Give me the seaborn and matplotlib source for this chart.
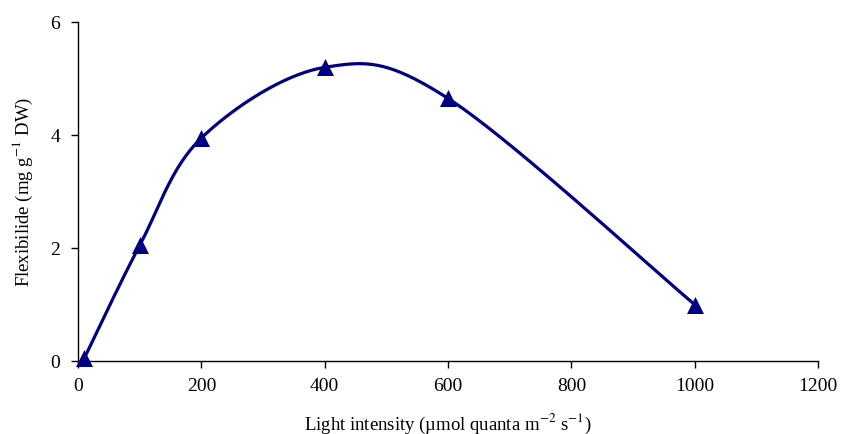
import numpy as np
import pandas as pd
import matplotlib
matplotlib.use("Agg")
import matplotlib.pyplot as plt
import seaborn as sns

# dados
light = [10, 100, 200, 400, 600, 1000]
flexibilide = [0.05, 2.05, 3.95, 5.2, 4.65, 1.0]

NAVY = "#000080"


def smooth_curve(xs, ys, n=40):
    """Suavização estilo Excel (Bezier com pontos de controle Catmull-Rom)."""
    pts = np.column_stack([xs, ys]).astype(float)
    out = []
    t = np.linspace(0, 1, n)
    for i in range(len(pts) - 1):
        p0 = pts[i - 1] if i > 0 else pts[i]
        p1 = pts[i]
        p2 = pts[i + 1]
        p3 = pts[i + 2] if i + 2 < len(pts) else pts[i + 1]
        c1 = p1 + (p2 - p0) / 6
        c2 = p2 - (p3 - p1) / 6
        seg = ((1 - t)[:, None] ** 3 * p1 + 3 * ((1 - t) ** 2 * t)[:, None] * c1
               + 3 * ((1 - t) * t ** 2)[:, None] * c2 + (t ** 3)[:, None] * p2)
        out.append(seg if i == 0 else seg[1:])
    seg = np.vstack(out)
    return pd.DataFrame({"x": seg[:, 0], "y": seg[:, 1]})


sns.set_theme(style="ticks")
plt.rcParams["font.family"] = ["Liberation Serif", "DejaVu Serif"]
plt.rcParams["mathtext.fontset"] = "stix"
plt.rcParams["text.color"] = "black"
plt.rcParams["axes.labelcolor"] = "black"
plt.rcParams["xtick.color"] = "black"
plt.rcParams["ytick.color"] = "black"

fig = plt.figure(figsize=(8.49, 4.34), dpi=100)
ax = fig.add_axes([0.092, 0.168, 0.8715, 0.781])

curve = smooth_curve(light, flexibilide)
sns.lineplot(data=curve, x="x", y="y", ax=ax, color=NAVY, linewidth=2.3,
             sort=False, estimator=None)
pts = pd.DataFrame({"x": light, "y": flexibilide})
sns.scatterplot(data=pts, x="x", y="y", ax=ax, marker="^", s=150,
                color=NAVY, edgecolor=NAVY, linewidth=0, zorder=3, clip_on=False)

ax.set_xlim(0, 1200)
ax.set_ylim(0, 6)
ax.set_xticks([0, 200, 400, 600, 800, 1000, 1200])
ax.set_yticks([0, 2, 4, 6])
ax.set_xlabel(r"Light intensity (µmol quanta m$^{-2}$ s$^{-1}$)", fontsize=13.5, labelpad=12)
ax.set_ylabel(r"Flexibilide (mg g$^{-1}$ DW)", fontsize=13.5, labelpad=11)
ax.tick_params(axis="both", labelsize=14, direction="out", length=5, width=1,
               color="black")
ax.tick_params(axis="x", pad=7)
ax.tick_params(axis="y", pad=8)
for side in ["top", "right"]:
    ax.spines[side].set_visible(False)
for side in ["left", "bottom"]:
    ax.spines[side].set_color("black")
    ax.spines[side].set_linewidth(1)

fig.savefig("out.png", dpi=100)
